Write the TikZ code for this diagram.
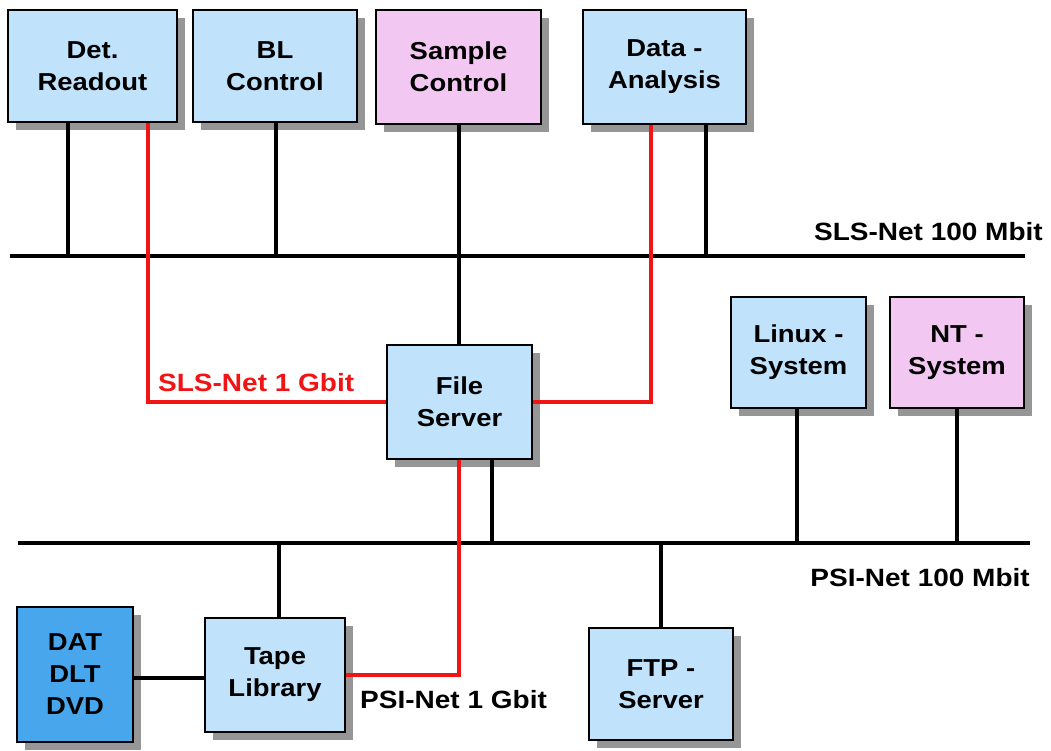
\documentclass[tikz,border=0pt]{standalone}
\usepackage{fontspec}
\setmainfont{Liberation Sans}[FakeStretch=1.12]
\usetikzlibrary{shadows,calc}
\definecolor{lb}{RGB}{192,226,250}
\definecolor{pk}{RGB}{242,200,242}
\definecolor{db}{RGB}{72,166,236}
\definecolor{shd}{RGB}{150,150,150}
\definecolor{netred}{RGB}{240,20,20}
\begin{document}
\begin{tikzpicture}[x=1pt,y=-1pt,
  box/.style={draw=black,line width=2pt,align=center,
    font=\fontsize{24.5}{32}\selectfont\bfseries,inner sep=0pt,
    drop shadow={shadow xshift=8pt,shadow yshift=-8pt,fill=shd,opacity=1}},
  wire/.style={line width=3.2pt,black},
  rwire/.style={line width=3.2pt,netred},
  lbl/.style={font=\fontsize{25}{30}\selectfont\bfseries,inner sep=0pt}]
\useasboundingbox (0,0) rectangle (1051,750);
\fill[white] (0,0) rectangle (1051,750);
% boxes
\node[box,fill=lb,minimum width=169pt,minimum height=112pt] (det) at (92.5,66) {Det.\\Readout};
\node[box,fill=lb,minimum width=164pt,minimum height=112pt] (bl) at (275,66) {BL\\Control};
\node[box,fill=pk,minimum width=165pt,minimum height=114pt] (sc) at (458.5,67) {Sample\\Control};
\node[box,fill=lb,minimum width=163pt,minimum height=114pt] (da) at (664.5,67) {Data -\\Analysis};
\node[box,fill=lb,minimum width=145pt,minimum height=114pt] (fs) at (459.5,402) {File\\Server};
\node[box,fill=lb,minimum width=135pt,minimum height=111pt] (lx) at (798.5,352.5) {Linux -\\System};
\node[box,fill=pk,minimum width=134pt,minimum height=111pt] (nt) at (957,352.5) {NT -\\System};
\node[box,fill=db,minimum width=116pt,minimum height=135pt] (dat) at (75,674.5) {DAT\\DLT\\DVD};
\node[box,fill=lb,minimum width=140pt,minimum height=114pt] (tape) at (275,675) {Tape\\Library};
\node[box,fill=lb,minimum width=144pt,minimum height=112pt] (ftp) at (661,684) {FTP -\\Server};
% buses
\coordinate (slsL) at (10,256);
\coordinate (slsR) at (1025,256);
\coordinate (psiL) at (18,543);
\coordinate (psiR) at (1030,543);
\draw[wire] (slsL) -- (slsR);
\draw[wire] (psiL) -- (psiR);
% x positions
\coordinate (xa) at (68,0);
\coordinate (xb) at (148,0);
\coordinate (xc) at (276,0);
\coordinate (xd) at (651,0);
\coordinate (xe) at (706,0);
\coordinate (xf) at (492,0);
\coordinate (xg) at (279,0);
\coordinate (xh) at (797,0);
\coordinate (xi) at (957,0);
\coordinate (xj) at (661,0);
\coordinate (xk) at (459,0);
\coordinate (yk) at (0,678);
% connectors
\draw[wire] (det.south -| xa) -- (xa |- slsL);
\draw[wire] (bl.south -| xc) -- (xc |- slsL);
\draw[wire] (da.south -| xe) -- (xe |- slsL);
\draw[wire] (sc.south -| xk) -- (fs.north -| xk);
\draw[wire] (fs.south -| xf) -- (xf |- psiL);
\draw[wire] (lx.south -| xh) -- (xh |- psiL);
\draw[wire] (nt.south -| xi) -- (xi |- psiL);
\draw[wire] (tape.north -| xg) -- (xg |- psiL);
\draw[wire] (ftp.north -| xj) -- (xj |- psiL);
\draw[wire] (dat.east |- yk) -- (tape.west |- yk);
\draw[rwire] (det.south -| xb) |- (fs.west);
\draw[rwire] (da.south -| xd) |- (fs.east);
\draw[rwire] (fs.south -| xk) |- (tape.east);
% labels
\node[lbl,anchor=east] (slsl) at (1043,232) {SLS-Net 100 Mbit};
\node[lbl,anchor=east] (psil) at (1030,578) {PSI-Net 100 Mbit};
\node[lbl,anchor=west,text=netred] (slsg) at (158,383) {SLS-Net 1 Gbit};
\node[lbl,anchor=west] (psig) at (360,700) {PSI-Net 1 Gbit};
\end{tikzpicture}
\end{document}
